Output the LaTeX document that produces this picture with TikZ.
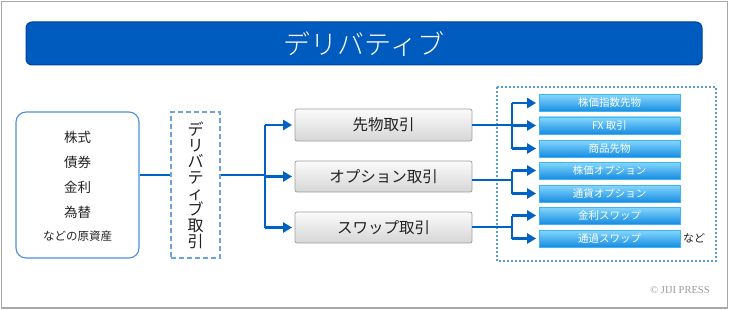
\documentclass[tikz,border=0pt]{standalone}
\usepackage{fontspec}
\setmainfont{Noto Sans CJK JP}
\newfontfamily\titlefont{Noto Sans CJK JP Light}
\newfontfamily\copyfont{Liberation Serif}
\usetikzlibrary{arrows.meta}
\definecolor{framegray}{HTML}{A8A8A8}
\definecolor{titleblue}{HTML}{005BBF}
\definecolor{titleedge}{HTML}{0040A0}
\definecolor{arrowblue}{HTML}{0062C4}
\definecolor{srcedge}{HTML}{4A8FD8}
\definecolor{dashedge}{HTML}{6FA3DF}
\definecolor{dotedge}{HTML}{5B9BD5}
\definecolor{graytop}{HTML}{FBFBFB}
\definecolor{graybot}{HTML}{D6D6D6}
\definecolor{grayedge}{HTML}{A0A0A0}
\definecolor{bluetop}{HTML}{86D8FD}
\definecolor{bluebot}{HTML}{178CE2}
\definecolor{blueedge}{HTML}{3FB4F2}
\definecolor{txtdark}{HTML}{222222}
\definecolor{copygray}{HTML}{9A9A9A}
\tikzset{
  frame/.style={draw=framegray,line width=1.2pt},
  titlebar/.style={draw=titleedge,line width=1pt,fill=titleblue,rounded corners=6pt,
    minimum width=676pt,minimum height=43pt,inner sep=0pt,text=white,
    font=\titlefont\fontsize{27}{27}\selectfont},
  srcbox/.style={draw=srcedge,line width=1.1pt,rounded corners=10pt,
    minimum width=123pt,minimum height=146pt,inner sep=0pt},
  srctext/.style={text=txtdark,inner sep=0pt,font=\fontsize{13.5}{13.5}\selectfont},
  dashbox/.style={draw=dashedge,line width=1.1pt,dash pattern=on 5pt off 3pt,
    minimum width=49pt,minimum height=146pt,inner sep=0pt,align=center,
    text=txtdark,font=\fontsize{16}{16}\selectfont},
  graybox/.style={draw=grayedge,line width=0.8pt,rounded corners=2pt,
    top color=graytop,bottom color=graybot,minimum width=177pt,minimum height=31pt,
    inner sep=0pt,text=txtdark,font=\fontsize{15.5}{15.5}\selectfont},
  bluebox/.style={draw=blueedge,line width=0.8pt,top color=bluetop,bottom color=bluebot,
    minimum width=141pt,minimum height=17pt,inner sep=0pt,text=white,
    font=\fontsize{10.5}{10.5}\selectfont},
  dotbox/.style={draw=dotedge,line width=1.2pt,dash pattern=on 2pt off 2pt},
  conn/.style={draw=arrowblue,line width=2.3pt},
  arr/.style={conn,-{Triangle[length=9pt,width=10pt]},shorten >=2.5pt}
}
\begin{document}
\begin{tikzpicture}[x=1pt,y=-1pt]
\useasboundingbox (0,0) rectangle (730,310);
\draw[frame] (1.5,1.5) rectangle (727.5,308);
\node[titlebar] (title) at (364,43.5) {デリバティブ};
% source box
\node[srcbox] (src) at (77.5,185) {};
\node[srctext] (s1) at (77.5,137) {株式};
\node[srctext] (s2) at (77.5,162) {債券};
\node[srctext] (s3) at (77.5,187) {金利};
\node[srctext] (s4) at (77.5,212) {為替};
\node[srctext,font=\fontsize{11.5}{11.5}\selectfont] (s5) at (77.5,236) {などの原資産};
% derivative trade box
\node[dashbox] (der) at (195.5,185) {デ\\リ\\バ\\テ\\ィ\\ブ\\取\\引};
\coordinate (ya) at (0,175);
\coordinate (j1) at (265,175);
\draw[conn] (src.east |- ya) -- (der.west |- ya);
\draw[conn] (der.east |- ya) -- (j1);
% gray boxes
\node[graybox,minimum height=32pt] (fut) at (383.5,125) {先物取引};
\node[graybox] (opt) at (383.5,176.5) {オプション取引};
\node[graybox] (swp) at (383.5,227.5) {スワップ取引};
\draw[conn] (j1 |- fut.west) -- (j1 |- swp.west);
\draw[arr] (j1 |- fut.west) -- (fut.west);
\draw[arr] (j1 |- opt.west) -- (opt.west);
\draw[arr] (j1 |- swp.west) -- (swp.west);
% dotted group
\draw[dotbox] (497,87) rectangle (716,261);
\node[bluebox] (b1) at (609.5,103) {株価指数先物};
\node[bluebox] (b2) at (609.5,125.5) {FX 取引};
\node[bluebox] (b3) at (609.5,148.5) {商品先物};
\node[bluebox] (b4) at (609.5,170.5) {株価オプション};
\node[bluebox] (b5) at (609.5,193.5) {通貨オプション};
\node[bluebox] (b6) at (609.5,215.5) {金利スワップ};
\node[bluebox] (b7) at (609.5,238.5) {通過スワップ};
\node[text=txtdark,inner sep=0pt,font=\fontsize{11}{11}\selectfont] (etc) at (694,238) {など};
% group connectors
\coordinate (g1) at (512,125);
\coordinate (g2) at (512,180);
\coordinate (g3) at (512,227);
\draw[conn] (fut.east |- g1) -- (g1);
\draw[conn] (g1 |- b1.west) -- (g1 |- b3.west);
\draw[arr] (g1 |- b1.west) -- (b1.west);
\draw[arr] (g1 |- b2.west) -- (b2.west);
\draw[arr] (g1 |- b3.west) -- (b3.west);
\draw[conn] (opt.east |- g2) -- (g2);
\draw[conn] (g2 |- b4.west) -- (g2 |- b5.west);
\draw[arr] (g2 |- b4.west) -- (b4.west);
\draw[arr] (g2 |- b5.west) -- (b5.west);
\draw[conn] (swp.east |- g3) -- (g3);
\draw[conn] (g3 |- b6.west) -- (g3 |- b7.west);
\draw[arr] (g3 |- b6.west) -- (b6.west);
\draw[arr] (g3 |- b7.west) -- (b7.west);
\node[text=copygray,inner sep=0pt,font=\copyfont\fontsize{10.5}{10.5}\selectfont] (copy) at (680,290.5) {© JIJI PRESS};
\end{tikzpicture}
\end{document}
